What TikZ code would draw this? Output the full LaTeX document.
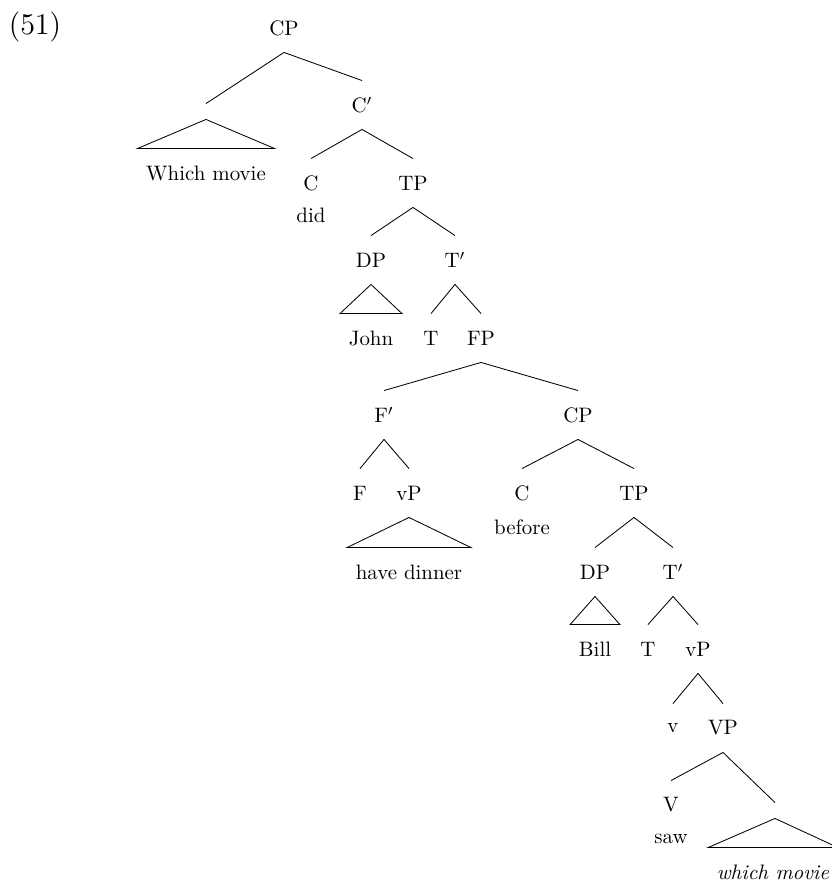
\documentclass[tikz,border=0pt]{standalone}
\usepackage{amsmath}
\usepackage{tikz}
\usetikzlibrary{positioning}

\begin{document}
\begin{tikzpicture}[x=0.4785pt, y=-0.4785pt, node distance=1pt]
	\tikzstyle{cat} = [inner xsep=4pt, inner ysep=0pt, minimum height=23pt]
	\tikzstyle{word} = [inner sep=0pt]
	\tikzstyle{gap} = [inner sep=0pt, minimum width=0pt, minimum height=7.2pt]
	\tikzstyle{branch} = [line width=0.4pt]

	\useasboundingbox (0,0) rectangle (832,881);

	\node [word] (num) at (35,27) {\Large (51)};

	% upper clause
	\node [cat] (cp1) at (284,28) {CP};
	\node [gap] (spec) at (206,111.5) {};
	\node [cat] (whmovie) at (206,173) {Which movie};
	\node [cat] (cbar1) at (362,105) {C$'$};
	\node [cat] (c1) at (311,183) {C};
	\node [word, below=0pt of c1] (did) {did};
	\node [cat] (tp1) at (413,183) {TP};
	\node [cat] (dp1) at (371,260) {DP};
	\node [cat] (john) at (371,338) {John};
	\node [cat] (tbar1) at (455,260) {T$'$};
	\node [cat] (t1) at (431,338) {T};
	\node [cat] (fp) at (481,338) {FP};
	\node [cat] (fbar) at (384,415) {F$'$};
	\node [cat] (f) at (360,493) {F};
	\node [cat] (vp1) at (409,493) {vP};
	\node [cat] (dinner) at (409,572) {have dinner};

	% adjunct clause
	\node [cat] (cp2) at (578,415) {CP};
	\node [cat] (c2) at (522,493) {C};
	\node [word, below=of c2] (before) {before};
	\node [cat] (tp2) at (634,493) {TP};
	\node [cat] (dp2) at (595,572) {DP};
	\node [cat] (bill) at (595,649) {Bill};
	\node [cat] (tbar2) at (673,572) {T$'$};
	\node [cat] (t2) at (648,649) {T};
	\node [cat] (vp2) at (698,649) {vP};
	\node [cat] (v) at (673,728) {v};
	\node [cat] (vbar) at (723,728) {VP};
	\node [cat] (verb) at (671,805) {V};
	\node [word, below=2pt of verb] (saw) {saw};
	\node [gap] (obj) at (775,810.5) {};
	\node [cat] (whmovie2) at (773,872) {\textit{which movie}};

	\draw [branch] (cp1.south) -- (spec.north);
	\draw [branch] (cp1.south) -- (cbar1.north);
	\draw [branch] (spec.south) -- (whmovie.north west) -- (whmovie.north east) -- cycle;
	\draw [branch] (cbar1.south) -- (c1.north);
	\draw [branch] (cbar1.south) -- (tp1.north);
	\draw [branch] (tp1.south) -- (dp1.north);
	\draw [branch] (tp1.south) -- (tbar1.north);
	\draw [branch] (dp1.south) -- (john.north west) -- (john.north east) -- cycle;
	\draw [branch] (tbar1.south) -- (t1.north);
	\draw [branch] (tbar1.south) -- (fp.north);
	\draw [branch] (fp.south) -- (fbar.north);
	\draw [branch] (fp.south) -- (cp2.north);
	\draw [branch] (fbar.south) -- (f.north);
	\draw [branch] (fbar.south) -- (vp1.north);
	\draw [branch] (vp1.south) -- (dinner.north west) -- (dinner.north east) -- cycle;

	\draw [branch] (cp2.south) -- (c2.north);
	\draw [branch] (cp2.south) -- (tp2.north);
	\draw [branch] (tp2.south) -- (dp2.north);
	\draw [branch] (tp2.south) -- (tbar2.north);
	\draw [branch] (dp2.south) -- (bill.north west) -- (bill.north east) -- cycle;
	\draw [branch] (tbar2.south) -- (t2.north);
	\draw [branch] (tbar2.south) -- (vp2.north);
	\draw [branch] (vp2.south) -- (v.north);
	\draw [branch] (vp2.south) -- (vbar.north);
	\draw [branch] (vbar.south) -- (verb.north);
	\draw [branch] (vbar.south) -- (obj.north);
	\draw [branch] (obj.south) -- (whmovie2.north west) -- (whmovie2.north east) -- cycle;
\end{tikzpicture}
\end{document}
